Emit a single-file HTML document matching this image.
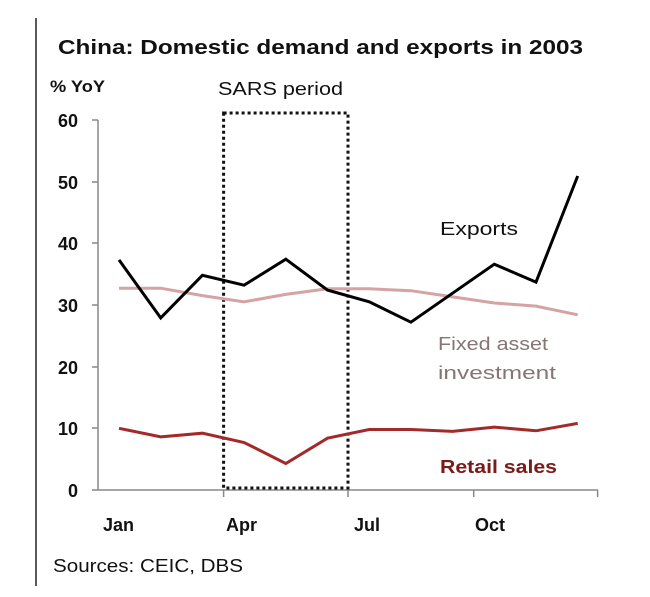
<!DOCTYPE html>
<html><head><meta charset="utf-8"><style>
html,body{margin:0;padding:0;background:#fff;}
svg{display:block;}
text{font-family:"Liberation Sans",sans-serif;}
</style></head><body>
<svg width="650" height="597" viewBox="0 0 650 597" xmlns="http://www.w3.org/2000/svg">
<line x1="36" y1="18" x2="36" y2="586" stroke="#222" stroke-width="1.5"/>
<text x="58" y="54" font-size="20" font-weight="bold" textLength="525" lengthAdjust="spacingAndGlyphs" fill="#111">China: Domestic demand and exports in 2003</text>
<text x="50" y="92" font-size="17" font-weight="bold" textLength="55" lengthAdjust="spacingAndGlyphs" fill="#111">% YoY</text>
<text x="218" y="95" font-size="18" textLength="125" lengthAdjust="spacingAndGlyphs" fill="#111">SARS period</text>
<g font-size="18" font-weight="bold" fill="#111" text-anchor="end">
<text x="78" y="127">60</text><text x="78" y="189">50</text><text x="78" y="250">40</text>
<text x="78" y="312">30</text><text x="78" y="374">20</text><text x="78" y="435">10</text><text x="78" y="497">0</text>
</g>
<g stroke="#888" stroke-width="1.5" fill="none">
<line x1="98" y1="120" x2="98" y2="490"/>
<line x1="98" y1="490" x2="598" y2="490"/>
<line x1="92" y1="120" x2="98" y2="120"/><line x1="92" y1="182" x2="98" y2="182"/>
<line x1="92" y1="243" x2="98" y2="243"/><line x1="92" y1="305" x2="98" y2="305"/>
<line x1="92" y1="367" x2="98" y2="367"/><line x1="92" y1="428" x2="98" y2="428"/>
<line x1="92" y1="490" x2="98" y2="490"/>
<line x1="223.6" y1="490" x2="223.6" y2="497"/><line x1="348" y1="490" x2="348" y2="497"/>
<line x1="473.7" y1="490" x2="473.7" y2="497"/><line x1="597.6" y1="490" x2="597.6" y2="497"/>
</g>
<rect x="223.6" y="113" width="124.4" height="375" fill="none" stroke="#111" stroke-width="3" stroke-dasharray="3,3"/>
<polyline fill="none" stroke="#d4a3a3" stroke-width="3" points="119,288.2 160.7,288.2 202.4,295.6 244.1,301.8 285.8,294.4 327.5,288.8 369.2,288.8 410.9,290.7 452.6,296.9 494.3,303 536,306.1 577.7,314.8"/>
<polyline fill="none" stroke="#000" stroke-width="3" points="119,259.9 160.7,317.9 202.4,275.3 244.1,285.2 285.8,259.2 327.5,290.1 369.2,301.8 410.9,322.2 452.6,293.2 494.3,264.2 536,282.1 577.7,176"/>
<polyline fill="none" stroke="#a32a2a" stroke-width="3" points="119,428.3 160.7,436.9 202.4,433.2 244.1,442.5 285.8,463.5 327.5,438.2 369.2,429.5 410.9,429.5 452.6,431.4 494.3,427.1 536,430.8 577.7,423.4"/>
<text x="440" y="235" font-size="18" fill="#111" textLength="78" lengthAdjust="spacingAndGlyphs">Exports</text>
<text x="438" y="350" font-size="18" fill="#857676" textLength="110" lengthAdjust="spacingAndGlyphs">Fixed asset</text>
<text x="438" y="379" font-size="18" fill="#857676" textLength="118" lengthAdjust="spacingAndGlyphs">investment</text>
<text x="440" y="473" font-size="18" font-weight="bold" fill="#7a1a1a" textLength="117" lengthAdjust="spacingAndGlyphs">Retail sales</text>
<g font-size="18" font-weight="bold" fill="#111">
<text x="103" y="531">Jan</text><text x="226" y="531">Apr</text><text x="354" y="531">Jul</text><text x="475" y="531">Oct</text>
</g>
<text x="53" y="572" font-size="18" fill="#111" textLength="190" lengthAdjust="spacingAndGlyphs">Sources: CEIC, DBS</text>
</svg>
</body></html>
